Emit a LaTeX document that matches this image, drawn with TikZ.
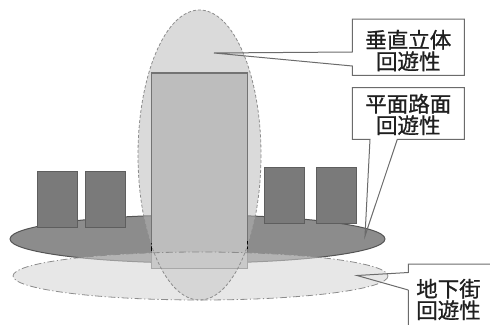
\documentclass[tikz,border=0pt]{standalone}
\usepackage{fontspec}
\newfontfamily\jp{Noto Sans CJK JP}[FakeBold=0.9]
\definecolor{groundfill}{gray}{0.55}
\definecolor{groundedge}{gray}{0.33}
\definecolor{bldfill}{gray}{0.48}
\definecolor{bldedge}{gray}{0.37}
\definecolor{zonefill}{gray}{0.71}
\definecolor{towerfill}{gray}{0.74}
\definecolor{toweredge}{gray}{0.45}
\definecolor{underfill}{gray}{0.83}
\definecolor{zoneedge}{gray}{0.55}
\definecolor{calloutline}{gray}{0.42}
\definecolor{labeltext}{gray}{0.12}
\begin{document}
\begin{tikzpicture}[x=1pt,y=-1pt,
  ground/.style={fill=groundfill,draw=groundedge,line width=1pt},
  building/.style={fill=bldfill,draw=bldedge,line width=1pt},
  vzone/.style={fill=zonefill,fill opacity=0.5},
  tower/.style={fill=towerfill,draw=toweredge,line width=1.1pt},
  uzone/.style={fill=underfill,fill opacity=0.55},
  vzoneedge/.style={draw=zoneedge,line width=0.8pt,dash pattern=on 3pt off 2pt},
  uzoneedge/.style={draw=zoneedge,line width=0.8pt,dash pattern=on 7pt off 2.5pt on 1.2pt off 2.5pt},
  callout/.style={draw=calloutline,line width=1pt,line join=miter},
  lbl/.style={inner sep=0pt,align=center,text=labeltext,
    font=\jp\fontsize{21.5}{21.5}\selectfont}]
\useasboundingbox (0,0) rectangle (490,324);
\clip (0,0) rectangle (490,324);

% street level disc
\path[ground] (197.5,239) ellipse [x radius=187.5,y radius=24];

% low-rise buildings
\path[building] (37.3,171.7) rectangle (77.7,227.7);
\path[building] (85.3,171.7) rectangle (125.3,227.7);
\path[building] (264.3,167.3) rectangle (304.7,223.3);
\path[building] (316,167.3) rectangle (356.7,223.3);

% vertical circulation zone
\fill[vzone] (199.5,155) ellipse [x radius=61.5,y radius=145];

% tower
\path[tower] (151.7,73) rectangle (247.7,268.3);
\draw[black,line width=1.2pt] (151.7,243) -- (151.7,251);
\draw[black,line width=1.2pt] (247.7,241) -- (247.7,249);

% underground circulation zone
\fill[uzone] (200.5,276) ellipse [x radius=187.5,y radius=24];

% zone outlines
\path[vzoneedge] (199.5,155) ellipse [x radius=61.5,y radius=145];
\path[uzoneedge] (200.5,276) ellipse [x radius=187.5,y radius=24];

% callout tips
\coordinate (tv) at (214,53);
\coordinate (tg) at (365,236);
\coordinate (tu) at (357,275.5);

% labels
\node[lbl] (lv) at (408.3,50.5) {垂直立体\\回遊性};
\node[lbl] (lg) at (408.3,114.5) {平面路面\\回遊性};
\node[lbl] (lu) at (448.5,299.5) {地下街\\回遊性};

% callout frames with pointers
\draw[callout] (352.3,19) -- (464.3,19) -- (464.3,75.3) -- (352.3,75.3)
  -- (352.3,66) -- (tv) -- (352.3,52) -- cycle;
\draw[callout] (352.3,87.7) -- (464.3,87.7) -- (464.3,139.3) -- (397.3,139.3)
  -- (tg) -- (370,139.3) -- (352.3,139.3) -- cycle;
\draw[callout] (408.3,290) -- (tu) -- (408.3,272.5) -- (408.3,264)
  -- (500,264) (408.3,290) -- (408.3,330);
\end{tikzpicture}
\end{document}
